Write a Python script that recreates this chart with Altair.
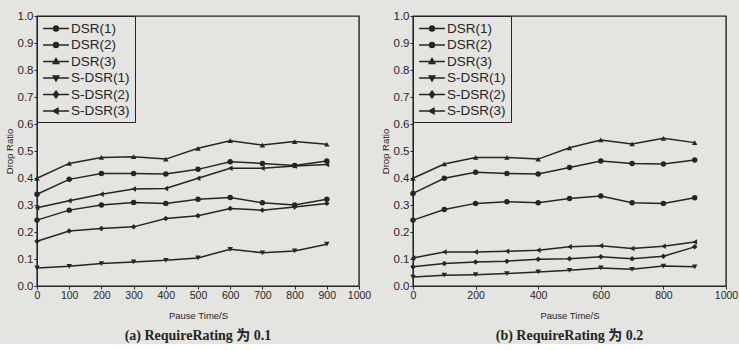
import math
import altair as alt
import pandas as pd

series_names = ["DSR(1)", "DSR(2)", "DSR(3)", "S-DSR(1)", "S-DSR(2)", "S-DSR(3)"]
pause_time = [0, 100, 200, 300, 400, 500, 600, 700, 800, 900]

# (a) RequireRating = 0.1
a_dsr1 = [0.244, 0.281, 0.300, 0.309, 0.306, 0.321, 0.328, 0.308, 0.300, 0.321]
a_dsr2 = [0.340, 0.395, 0.417, 0.417, 0.415, 0.432, 0.460, 0.454, 0.446, 0.463]
a_dsr3 = [0.399, 0.454, 0.476, 0.479, 0.470, 0.510, 0.538, 0.522, 0.535, 0.525]
a_sdsr1 = [0.067, 0.073, 0.083, 0.089, 0.095, 0.104, 0.136, 0.123, 0.130, 0.155]
a_sdsr2 = [0.166, 0.204, 0.213, 0.219, 0.250, 0.260, 0.287, 0.281, 0.293, 0.306]
a_sdsr3 = [0.290, 0.316, 0.340, 0.359, 0.361, 0.399, 0.436, 0.436, 0.444, 0.450]

# (b) RequireRating = 0.2
b_dsr1 = [0.244, 0.283, 0.306, 0.312, 0.308, 0.324, 0.333, 0.308, 0.306, 0.327]
b_dsr2 = [0.343, 0.399, 0.421, 0.417, 0.415, 0.439, 0.463, 0.454, 0.452, 0.467]
b_dsr3 = [0.399, 0.452, 0.476, 0.476, 0.470, 0.512, 0.541, 0.526, 0.547, 0.531]
b_sdsr1 = [0.033, 0.040, 0.042, 0.046, 0.052, 0.058, 0.067, 0.062, 0.074, 0.071]
b_sdsr2 = [0.071, 0.083, 0.089, 0.092, 0.099, 0.101, 0.108, 0.101, 0.110, 0.145]
b_sdsr3 = [0.104, 0.126, 0.126, 0.129, 0.132, 0.145, 0.149, 0.139, 0.147, 0.163]

x_ticks_a = [0, 100, 200, 300, 400, 500, 600, 700, 800, 900, 1000]
x_ticks_b = [0, 200, 400, 600, 800, 1000]
y_ticks = [0.0, 0.1, 0.2, 0.3, 0.4, 0.5, 0.6, 0.7, 0.8, 0.9, 1.0]
captions = ["(a) RequireRating 为 0.1", "(b) RequireRating 为 0.2"]
x_title = "Pause Time/S"
y_title = "Drop Ratio"

INK = "#252525"
BG = "#e4e4e1"

plot_shapes = ["circle", "circle", "triangle-up", "triangle-down", "diamond", "triangle-left"]

# ---- legend glyphs: a short line with a (chord-filled) marker in the middle ----
STEP = 0.11


def _steps(lo, hi):
    vals = []
    v = lo + STEP / 2
    while v < hi:
        vals.append(v)
        v += STEP
    return vals


def g_circle(r):
    p = f"M-{r},0A{r},{r} 0 1,0 {r},0A{r},{r} 0 1,0 -{r},0Z"
    for yy in _steps(-r, r):
        w = math.sqrt(max(r * r - yy * yy, 0))
        p += f"M{-w:.3f},{yy:.3f}H{w:.3f}"
    return p


def g_tri_up(h=0.45, b=0.42, base=0.3):
    p = f"M0,{-h}L{b},{base}L{-b},{base}Z"
    for yy in _steps(-h, base):
        w = b * (yy + h) / (base + h)
        p += f"M{-w:.3f},{yy:.3f}H{w:.3f}"
    return p


def g_tri_down(h=0.45, b=0.42, base=0.3):
    p = f"M0,{h}L{b},{-base}L{-b},{-base}Z"
    for yy in _steps(-base, h):
        w = b * (h - yy) / (base + h)
        p += f"M{-w:.3f},{yy:.3f}H{w:.3f}"
    return p


def g_diamond(h=0.5, b=0.38):
    p = f"M0,{-h}L{b},0L0,{h}L{-b},0Z"
    for yy in _steps(-h, h):
        w = b * (1 - abs(yy) / h)
        p += f"M{-w:.3f},{yy:.3f}H{w:.3f}"
    return p


def g_tri_left(h=0.45, b=0.42, base=0.3):
    p = f"M{-h},0L{base},{-b}L{base},{b}Z"
    for xx in _steps(-h, base):
        w = b * (xx + h) / (base + h)
        p += f"M{xx:.3f},{-w:.3f}V{w:.3f}"
    return p


LINE = "M-1.85,0H1.85"
legend_shapes = [
    LINE + g_circle(0.36),
    LINE + g_circle(0.36),
    LINE + g_tri_up(),
    LINE + g_tri_down(),
    LINE + g_diamond(),
    LINE + g_tri_left(),
]


def to_long(cols):
    rows = []
    for name, vals in zip(series_names, cols):
        for t, v in zip(pause_time, vals):
            rows.append({"series": name, "t": t, "v": v})
    return pd.DataFrame(rows)


def panel(cols, xticks, caption, width):
    df = to_long(cols)
    base = alt.Chart(df)
    x = alt.X(
        "t:Q",
        scale=alt.Scale(domain=[0, 1000], nice=False, zero=False),
        axis=alt.Axis(values=xticks, title=x_title, format="d", labelFlush=False,
                      labelOverlap=False, labelFontSize=10.5, titlePadding=10),
    )
    y = alt.Y(
        "v:Q",
        scale=alt.Scale(domain=[0, 1], nice=False),
        axis=alt.Axis(values=y_ticks, format=".1f", title=y_title, labelFontSize=11.5,
                      titlePadding=3),
    )
    lines = base.mark_line(color=INK, strokeWidth=1.5).encode(x=x, y=y, detail="series:N")
    pts = base.mark_point(filled=True, color=INK, size=30, opacity=1).encode(
        x=x, y=y,
        shape=alt.Shape("series:N", scale=alt.Scale(domain=series_names, range=plot_shapes), legend=None),
    )
    leg = base.transform_filter("datum.t < 0").mark_point(
        filled=False, color=INK, opacity=1, strokeWidth=1.3
    ).encode(
        x=x, y=y,
        shape=alt.Shape(
            "series:N",
            scale=alt.Scale(domain=series_names, range=legend_shapes),
            legend=alt.Legend(
                title=None, orient="top-left", offset=0, padding=4.5,
                strokeColor=INK, fillColor=BG,
                symbolSize=196, symbolStrokeWidth=1.3, symbolStrokeColor=INK,
                symbolFillColor=INK, symbolOpacity=1, symbolOffset=6.5, labelOffset=7,
                labelFontSize=13.5, labelFont="Liberation Sans", labelColor=INK,
                rowPadding=1.5,
            ),
        ),
    )
    return alt.layer(lines, pts, leg).resolve_scale(shape="independent").properties(
        width=width, height=270,
        title=alt.TitleParams(caption, orient="bottom", anchor="middle", fontSize=14,
                              font='"Liberation Serif", "Noto Sans CJK SC", serif',
                              fontWeight="bold", color=INK, offset=9),
    )


pa = panel([a_dsr1, a_dsr2, a_dsr3, a_sdsr1, a_sdsr2, a_sdsr3], x_ticks_a, captions[0], 322)
pb = panel([b_dsr1, b_dsr2, b_dsr3, b_sdsr1, b_sdsr2, b_sdsr3], x_ticks_b, captions[1], 313)

chart = (
    alt.hconcat(pa, pb, spacing=54, bounds="flush")
    .resolve_scale(shape="independent")
    .resolve_legend(shape="independent")
    .configure(background=BG, padding={"left": 3, "top": 9, "right": 0, "bottom": 0})
    .configure_view(stroke=INK, strokeWidth=1.4)
    .configure_axis(
        labelFont="Liberation Sans", labelColor=INK, titleFont="Liberation Sans",
        titleColor=INK, titleFontWeight="normal", titleFontSize=9.5, tickColor=INK,
        domainColor=INK, tickSize=3, labelPadding=1, grid=False,
    )
)

chart.save("out.html", embed_options={"renderer": "svg", "actions": False})
